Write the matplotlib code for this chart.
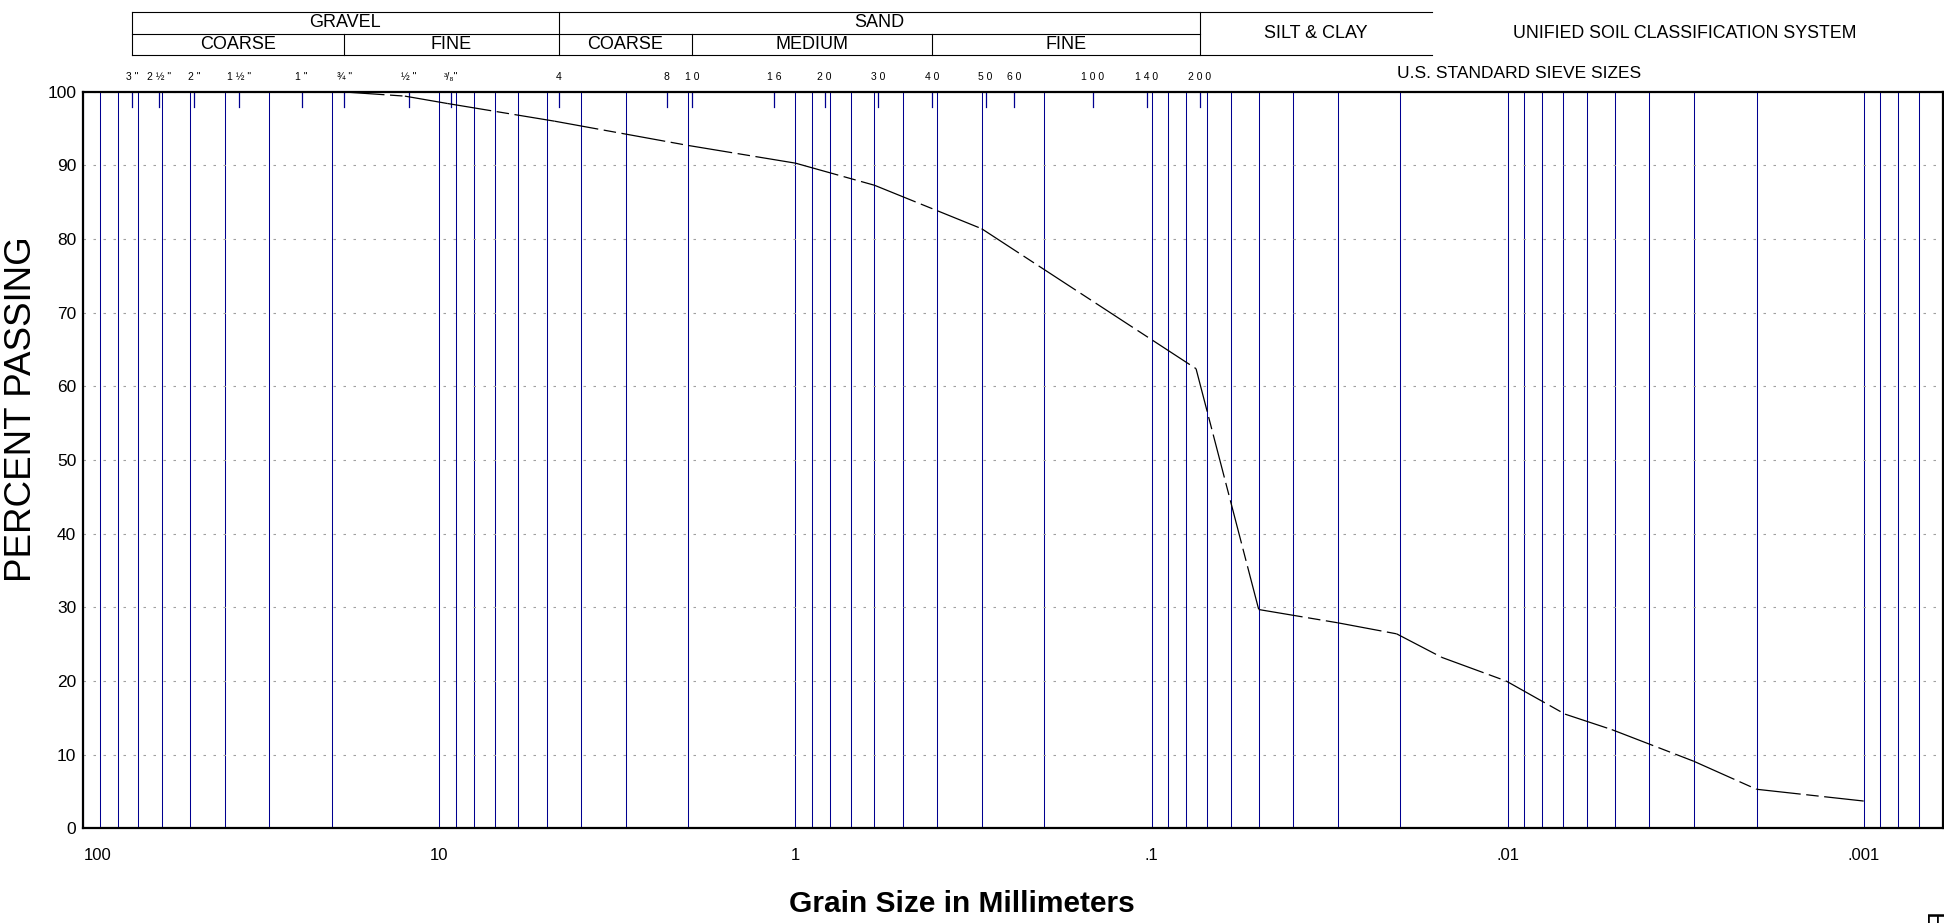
import matplotlib
matplotlib.use("Agg")
import matplotlib.pyplot as plt
import matplotlib.transforms as mtransforms
from matplotlib import font_manager
from matplotlib.ticker import LogLocator, NullFormatter
import numpy as np

plt.rcParams['font.family'] = ['Liberation Sans', 'DejaVu Sans']
plt.rcParams['lines.scale_dashes'] = False

# Gradation curve
grain_mm = [19.0, 12.5, 9.5, 4.75, 2.0, 1.0, 0.6, 0.3, 0.075,
            0.05, 0.03, 0.0205, 0.0153, 0.0101, 0.0069, 0.0051, 0.0030, 0.0020, 0.0010]
percent_passing = [100.0, 99.4, 98.4, 96.0, 92.7, 90.3, 87.3, 81.4, 62.4,
                   29.7, 27.9, 26.4, 23.2, 20.0, 15.5, 13.4, 9.1, 5.3, 3.7]

# US standard sieves along the top
sieve_mm = [75, 63, 50, 37.5, 25, 19, 12.5, 9.5, 4.75, 2.36, 2.0, 1.18, 0.85,
            0.6, 0.425, 0.3, 0.25, 0.15, 0.106, 0.075]
sieve_labels = ['3 "', '2 ½ "', '2 "', '1 ½ "', '1 "', '¾ "', '½ "', '³/₈"', '4', '8', '1 0',
                '1 6', '2 0', '3 0', '4 0', '5 0', '6 0', '1 0 0', '1 4 0', '2 0 0']

# Unified soil classification bands
upper_names = ['GRAVEL', 'SAND', 'SILT & CLAY']
upper_edges = [75, 4.75, 0.075, 0.0167]
lower_names = ['COARSE', 'FINE', 'COARSE', 'MEDIUM', 'FINE']
lower_edges = [75, 19, 4.75, 2.0, 0.425, 0.075]

x_ticks = [100, 10, 1, 0.1, 0.01, 0.001]
x_ticklabels = ['100', '10', '1', '.1', '.01', '.001']

navy = '#000090'

fig = plt.figure(figsize=(19.44, 9.23), dpi=100)
ax = fig.add_axes([83.3 / 1944, (923 - 828.3) / 923, (1942.7 - 83.3) / 1944, (828.3 - 91.7) / 923])

ax.set_xscale('log')
ax.set_xlim(100, 0.0006)
ax.set_ylim(0, 100)

# blue log grid
ax.xaxis.set_major_locator(LogLocator(base=10, numticks=20))
ax.xaxis.set_minor_locator(LogLocator(base=10, subs=np.arange(2, 10), numticks=40))
ax.xaxis.set_minor_formatter(NullFormatter())
ax.set_xticks(x_ticks)
ax.set_xticklabels(x_ticklabels)
ax.get_xticklabels()[0].set_horizontalalignment('left')
ax.grid(True, which='both', axis='x', color=navy, lw=0.75)
ax.set_yticks(range(0, 101, 10))
ax.grid(True, which='major', axis='y', color='#a0a0a0', lw=0.8, linestyle=(0, (1.8, 5.4)))
ax.set_axisbelow(True)

ax.tick_params(axis='x', which='both', length=0, pad=14, labelsize=12)
ax.tick_params(axis='y', length=0, pad=5, labelsize=12.5)
for s in ax.spines.values():
    s.set_linewidth(1.6)

# curve, each segment restarts its dash pattern
for i in range(len(grain_mm) - 1):
    ax.plot(grain_mm[i:i + 2], percent_passing[i:i + 2], color='black', lw=0.9,
            linestyle=(0, (32, 4, 9, 4)), zorder=3)

# the header artwork sits a few pixels right of the grid
shift = mtransforms.ScaledTranslation(4 / 100, 0, fig.dpi_scale_trans)
trans = mtransforms.blended_transform_factory(ax.transData, ax.transAxes) + shift

# sieve ticks and labels
for mm, lab in zip(sieve_mm, sieve_labels):
    ax.plot([mm, mm], [1, 1 - 15 / 736.6], transform=trans, color=navy, lw=0.9, clip_on=False)
    ax.text(mm, 1.0195, lab, transform=trans, ha='center', va='center', fontsize=7.5)

# classification table
y_top, y_mid, y_bot = 1.1082, 1.0790, 1.0498
kw = dict(transform=trans, color='black', lw=0.8, clip_on=False)
ax.plot([upper_edges[0], upper_edges[-1]], [y_top, y_top], **kw)
ax.plot([upper_edges[0], upper_edges[-1]], [y_bot, y_bot], **kw)
ax.plot([lower_edges[0], lower_edges[-1]], [y_mid, y_mid], **kw)
for e in upper_edges[:-1]:
    ax.plot([e, e], [y_bot, y_top], **kw)
for e in lower_edges[1:-1]:
    if e not in upper_edges:
        ax.plot([e, e], [y_bot, y_mid], **kw)

for k, name in enumerate(upper_names):
    a, b = upper_edges[k], upper_edges[k + 1]
    yc = (y_top + y_mid) / 2 if name != 'SILT & CLAY' else (y_top + y_bot) / 2
    ax.text(np.sqrt(a * b), yc, name, transform=trans, ha='center', va='center', fontsize=13)
for k, name in enumerate(lower_names):
    a, b = lower_edges[k], lower_edges[k + 1]
    ax.text(np.sqrt(a * b), (y_mid + y_bot) / 2, name, transform=trans,
            ha='center', va='center', fontsize=13)

fig.text(1685 / 1944, 1 - 34 / 923, 'UNIFIED SOIL CLASSIFICATION SYSTEM',
         ha='center', va='center', fontsize=12.8)
fig.text(1519 / 1944, 1 - 74 / 923, 'U.S. STANDARD SIEVE SIZES',
         ha='center', va='center', fontsize=12.5)

fig.text(22 / 1944, 1 - 409 / 923, 'PERCENT PASSING', rotation=90,
         ha='center', va='center', fontsize=26.5)

fonts = font_manager.fontManager.ttflist
if any(f.name == 'Liberation Sans Narrow' for f in fonts):
    title_font = dict(family='Liberation Sans Narrow', fontsize=26)
else:
    title_font = dict(family='Liberation Sans', fontsize=21.5)
fig.text(962 / 1944, 1 - 904 / 923, 'Grain Size in Millimeters', ha='center', va='center',
         fontweight='bold', **title_font)

fig.text(1932 / 1944, 1 - 913 / 923, 'E', rotation=270, ha='center', va='top', fontsize=20)

fig.savefig('out.png', dpi=100)
